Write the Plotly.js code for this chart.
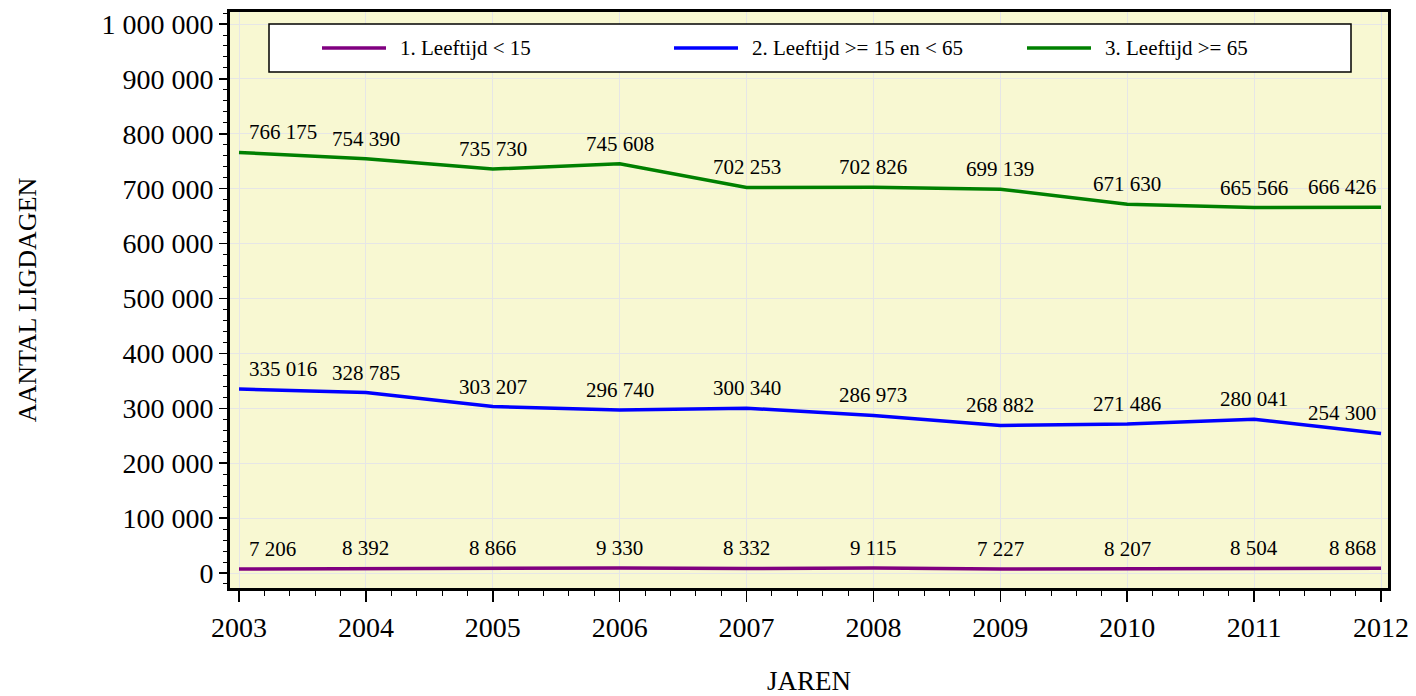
<!DOCTYPE html>
<html><head><meta charset="utf-8">
<script src="https://cdn.plot.ly/plotly-3.0.1.min.js"></script>
<style>html,body{margin:0;padding:0;background:#fff}#c{width:1416px;height:696px}</style>
</head><body><div id="c"></div>
<script>
const years = [2003,2004,2005,2006,2007,2008,2009,2010,2011,2012];
const seriesNames = ["1. Leeftijd < 15","2. Leeftijd >= 15 en < 65","3. Leeftijd >= 65"];
const under15 = [7206,8392,8866,9330,8332,9115,7227,8207,8504,8868];
const age15to65 = [335016,328785,303207,296740,300340,286973,268882,271486,280041,254300];
const over65 = [766175,754390,735730,745608,702253,702826,699139,671630,665566,666426];
const colors = ["#800080","#0000ff","#008000"];
const FONT = "Liberation Serif, Times New Roman, serif";

function fmt(v){return String(v).replace(/\B(?=(\d{3})+(?!\d))/g," ");}
const series = [under15, age15to65, over65];

const data = series.map((vals,k)=>({
  x: years, y: vals, name: seriesNames[k], type:"scatter", mode:"lines",
  line:{color:colors[k], width:3.5}, hoverinfo:"skip"
}));

const annotations = [];
series.forEach(vals=>{
  vals.forEach((v,i)=>{
    const last = i===years.length-1, first = i===0;
    annotations.push({x:years[i], y:v, xref:"x", yref:"y", text:fmt(v), showarrow:false,
      xanchor: first ? "left" : (last ? "right" : "center"),
      xshift: first ? 8 : (last ? -3 : 0),
      yanchor:"middle", yshift:20,
      font:{family:FONT, size:21, color:"#000"}});
  });
});

// legend drawn as shapes + text (paper coordinates of the plot area 230..1388 x 12..588)
const PX = x => (x-230)/1158, PY = y => (588-y)/576;
const shapes = [{type:"rect", xref:"paper", yref:"paper", x0:PX(269), x1:PX(1351), y0:PY(72), y1:PY(24),
  fillcolor:"#ffffff", line:{color:"#000", width:1.5}, layer:"above"}];
const legStarts = [322, 674, 1027];
seriesNames.forEach((n,k)=>{
  shapes.push({type:"line", xref:"paper", yref:"paper", x0:PX(legStarts[k]), x1:PX(legStarts[k]+64),
    y0:PY(48), y1:PY(48), line:{color:colors[k], width:3.5}, layer:"above"});
  annotations.push({xref:"paper", yref:"paper", x:PX(legStarts[k]+76), y:PY(48), xanchor:"left", yanchor:"middle",
    text:n.replace(/</g,"&lt;").replace(/>/g,"&gt;"), showarrow:false, font:{family:FONT, size:21, color:"#000"}});
});

const layout = {
  width:1416, height:696,
  margin:{l:230, r:28, t:12, b:108},
  paper_bgcolor:"#ffffff", plot_bgcolor:"#f8f8d2",
  separators:", ",
  font:{family:FONT, color:"#000"},
  showlegend:false,
  shapes, annotations,
  xaxis:{range:[2002.929, 2012.055], tickmode:"array", tickvals:years, ticktext:years.map(String),
    showgrid:true, gridcolor:"#e6e6e6", gridwidth:1, zeroline:false,
    showline:true, linecolor:"#000", linewidth:3, mirror:true,
    ticks:"outside", ticklen:11, tickwidth:1.5, tickcolor:"#000",
    minor:{dtick:0.2, tick0:2003, ticks:"outside", ticklen:5, tickwidth:1, tickcolor:"#000", showgrid:false},
    tickfont:{size:28, family:FONT}, ticklabelstandoff:1,
    title:{text:"JAREN", font:{size:27, family:FONT}, standoff:43}},
  yaxis:{range:[-27300, 1021900], tickmode:"linear", tick0:0, dtick:100000, tickformat:",d",
    showgrid:true, gridcolor:"#e6e6e6", gridwidth:1, zeroline:false,
    showline:true, linecolor:"#000", linewidth:3, mirror:true,
    ticks:"outside", ticklen:8, tickwidth:1.5, tickcolor:"#000",
    minor:{dtick:20000, ticks:"outside", ticklen:4, tickwidth:1, tickcolor:"#000", showgrid:false},
    tickfont:{size:28, family:FONT},
    title:{text:"AANTAL LIGDAGEN", font:{size:26, family:FONT}, standoff:58}}
};
Plotly.newPlot("c", data, layout, {displayModeBar:false, staticPlot:true});
</script></body></html>
